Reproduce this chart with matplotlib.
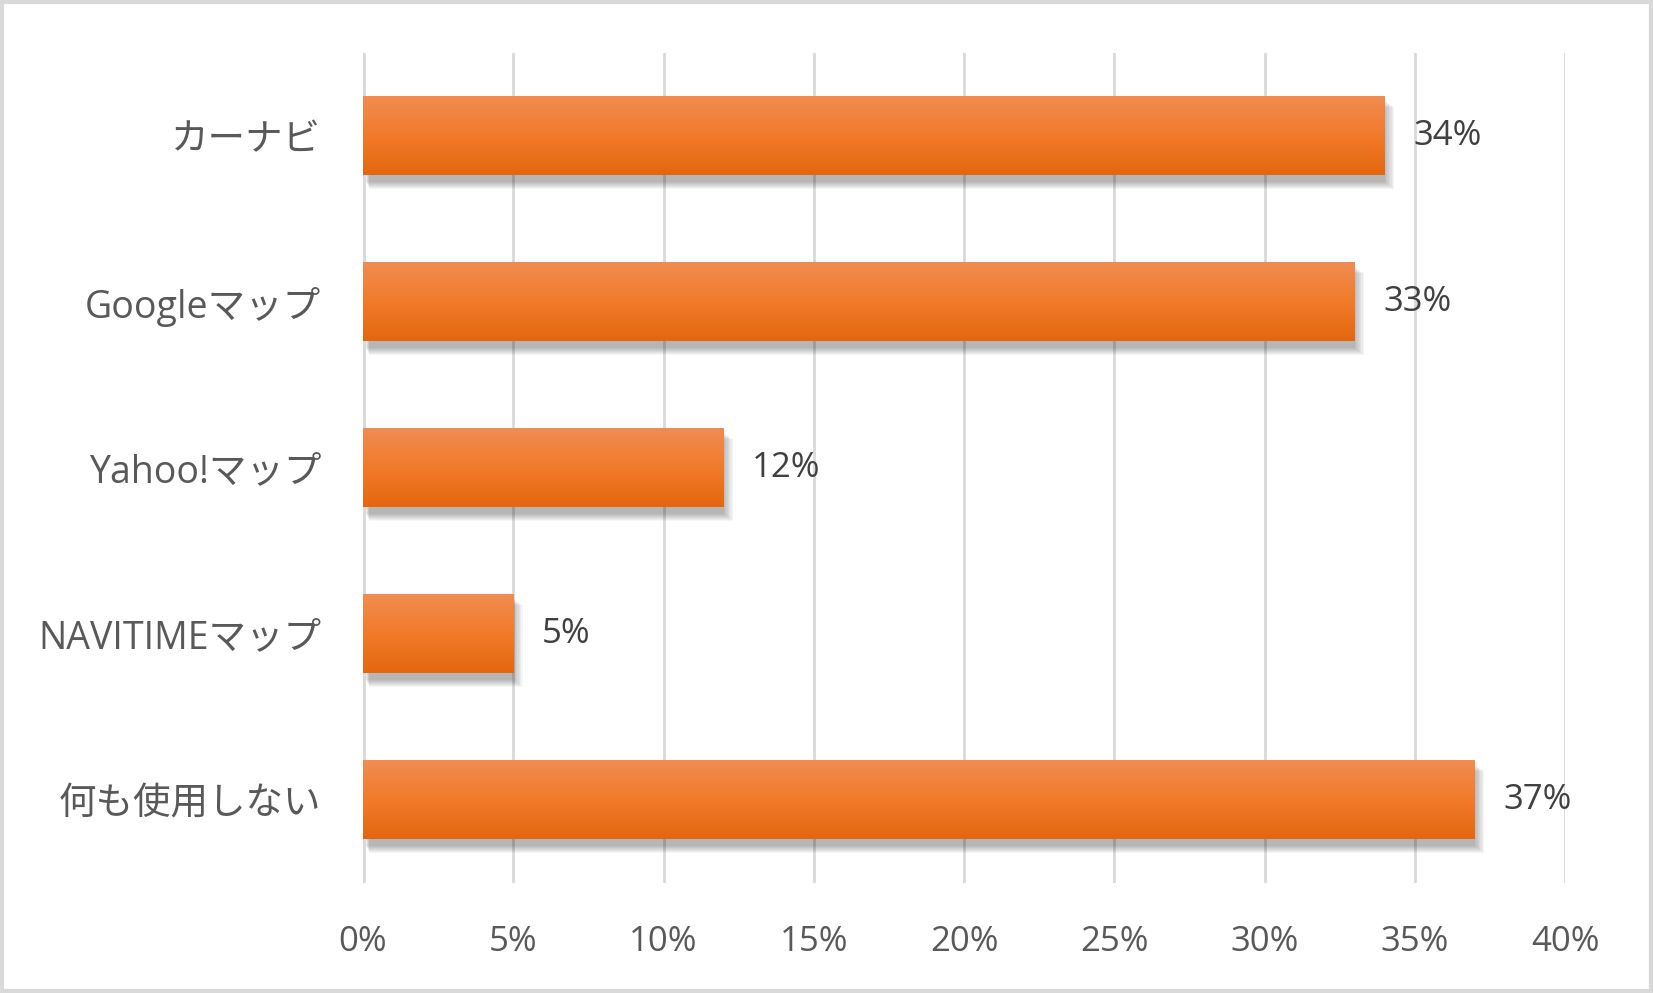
import numpy as np
import matplotlib
matplotlib.use('Agg')
import matplotlib.pyplot as plt
from matplotlib.patches import Rectangle
from matplotlib.colors import LinearSegmentedColormap

plt.rcParams['font.family'] = ['Open Sans', 'Noto Sans CJK JP', 'DejaVu Sans']

# data
categories = ['カーナビ', 'Googleマップ', 'Yahoo!マップ', 'NAVITIMEマップ', '何も使用しない']
values = [34, 33, 12, 5, 37]
xticks = [0, 5, 10, 15, 20, 25, 30, 35, 40]

fig = plt.figure(figsize=(16.53, 9.93), dpi=100)
ax = fig.add_axes([0.2196, 0.1108, 0.7272, 0.8358])

# figure frame
fig.patches.append(Rectangle((0.001, 0.002), 0.998, 0.996, transform=fig.transFigure,
                             fill=False, edgecolor='#d9d9d9', linewidth=3))

ax.set_xlim(0, 40)
ax.set_ylim(len(categories) - 0.5, -0.5)

# vertical gridlines
for t in xticks[1:]:
    ax.axvline(t, color='#d9d9d9', linewidth=2, zorder=0)
ax.axvline(0, color='#d9d9d9', linewidth=3.5, zorder=1)

grad = LinearSegmentedColormap.from_list('og', ['#f08c52', '#f27a2a', '#e4670f'])
gimg = np.linspace(0, 1, 100).reshape(-1, 1)

h = 0.47
for i, v in enumerate(values):
    # soft shadow
    for k in range(8):
        ax.add_patch(Rectangle((0.1 + 0.015 * k, i - h / 2 + 0.02 + 0.006 * k),
                               v + 0.03 * k - 0.1, h + 0.02,
                               facecolor='black', edgecolor='none', alpha=0.04, zorder=2))
    ax.imshow(gimg, cmap=grad, aspect='auto', extent=(0, v, i + h / 2, i - h / 2),
              zorder=3, interpolation='bilinear')
    ax.text(v + 0.95, i, f'{v}%', va='center', ha='left', fontsize=25, color='#404040', zorder=4)

ax.set_xlim(0, 40)
ax.set_ylim(len(categories) - 0.5, -0.5)

ax.set_yticks(range(len(categories)))
ax.set_yticklabels(categories, fontsize=27, color='#595959')
ax.set_xticks(xticks)
ax.set_xticklabels([f'{t}%' for t in xticks], fontsize=25, color='#595959')
ax.tick_params(axis='both', length=0)
ax.tick_params(axis='y', pad=30)
ax.tick_params(axis='x', pad=30)
for s in ax.spines.values():
    s.set_visible(False)

fig.savefig('out.png', dpi=100)
